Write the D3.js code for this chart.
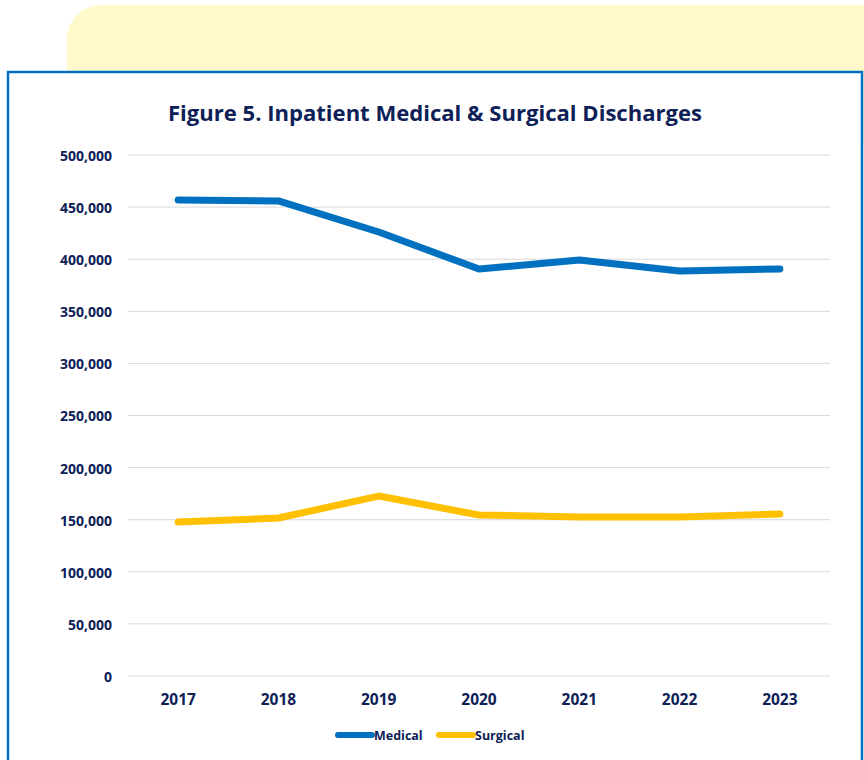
<!DOCTYPE html>
<html>
<head>
<meta charset="utf-8">
<script src="https://cdn.jsdelivr.net/npm/d3@7"></script>
<style>
  html, body { margin: 0; padding: 0; background: #ffffff; }
  svg { display: block; }
  text { font-family: "Open Sans", "Noto Sans", sans-serif; font-weight: 700; fill: #0d2157; }
</style>
</head>
<body>
<svg id="chart" width="864" height="760"></svg>
<script>
// chart data
const years = ["2017", "2018", "2019", "2020", "2021", "2022", "2023"];
const medical = [456800, 455900, 426100, 390600, 399200, 388700, 390600];
const surgical = [147800, 151600, 172700, 154500, 152600, 152600, 155500];
const yTicks = [0, 50000, 100000, 150000, 200000, 250000, 300000, 350000, 400000, 450000, 500000];
const seriesNames = ["Medical", "Surgical"];
const seriesColors = ["#0070c0", "#ffc000"];

const svg = d3.select("#chart");

// yellow card behind the frame
svg.append("rect")
    .attr("x", 67).attr("y", 5)
    .attr("width", 830).attr("height", 140)
    .attr("rx", 34).attr("ry", 34)
    .attr("fill", "#fff9cc");

// white panel with blue frame
svg.append("rect")
    .attr("x", 8).attr("y", 72)
    .attr("width", 854).attr("height", 720)
    .attr("fill", "#ffffff")
    .attr("stroke", "#0070c0")
    .attr("stroke-width", 2.5);

// title
svg.append("text")
    .attr("x", 435).attr("y", 121)
    .attr("text-anchor", "middle")
    .style("font-size", "21px")
    .attr("textLength", 534)
    .attr("lengthAdjust", "spacingAndGlyphs")
    .text("Figure 5. Inpatient Medical & Surgical Discharges");

const margin = { left: 128, right: 830, top: 155, bottom: 676 };

const x = d3.scaleBand().domain(years).range([margin.left, margin.right]);
const y = d3.scaleLinear().domain([0, 500000]).range([margin.bottom, margin.top]);

// gridlines
svg.append("g")
    .selectAll("line")
    .data(yTicks)
    .join("line")
    .attr("x1", margin.left).attr("x2", margin.right)
    .attr("y1", d => y(d)).attr("y2", d => y(d))
    .attr("stroke", "#d9d9d9")
    .attr("stroke-width", 1);

// y axis labels
const yAxis = svg.append("g")
    .attr("transform", "translate(" + (margin.left - 16) + ",1)")
    .call(d3.axisLeft(y).tickValues(yTicks).tickSize(0).tickPadding(0).tickFormat(d3.format(",")));
yAxis.select(".domain").remove();
yAxis.selectAll("text")
    .style("font-size", "14px")
    .attr("fill", "#0d2157");

// x axis labels
const xAxis = svg.append("g")
    .attr("transform", "translate(0," + (margin.bottom + 16) + ")")
    .call(d3.axisBottom(x).tickSize(0).tickPadding(2));
xAxis.select(".domain").remove();
xAxis.selectAll("text")
    .style("font-size", "15.5px")
    .attr("fill", "#0d2157");

// lines
const line = d3.line()
    .x((d, i) => x(years[i]) + x.bandwidth() / 2)
    .y(d => y(d));

[medical, surgical].forEach((vals, k) => {
    svg.append("path")
        .datum(vals)
        .attr("d", line)
        .attr("fill", "none")
        .attr("stroke", seriesColors[k])
        .attr("stroke-width", 7)
        .attr("stroke-linecap", "round")
        .attr("stroke-linejoin", "round");
});

// legend
const legend = svg.append("g").attr("transform", "translate(338,735)");
const legendX = [0, 101];
seriesNames.forEach((name, k) => {
    const g = legend.append("g").attr("transform", "translate(" + legendX[k] + ",0)");
    g.append("line")
        .attr("x1", 0).attr("x2", 34)
        .attr("stroke", seriesColors[k])
        .attr("stroke-width", 6)
        .attr("stroke-linecap", "round");
    g.append("text")
        .attr("x", 36).attr("y", 4.5)
        .style("font-size", "12.5px")
        .text(name);
});
</script>
</body>
</html>
